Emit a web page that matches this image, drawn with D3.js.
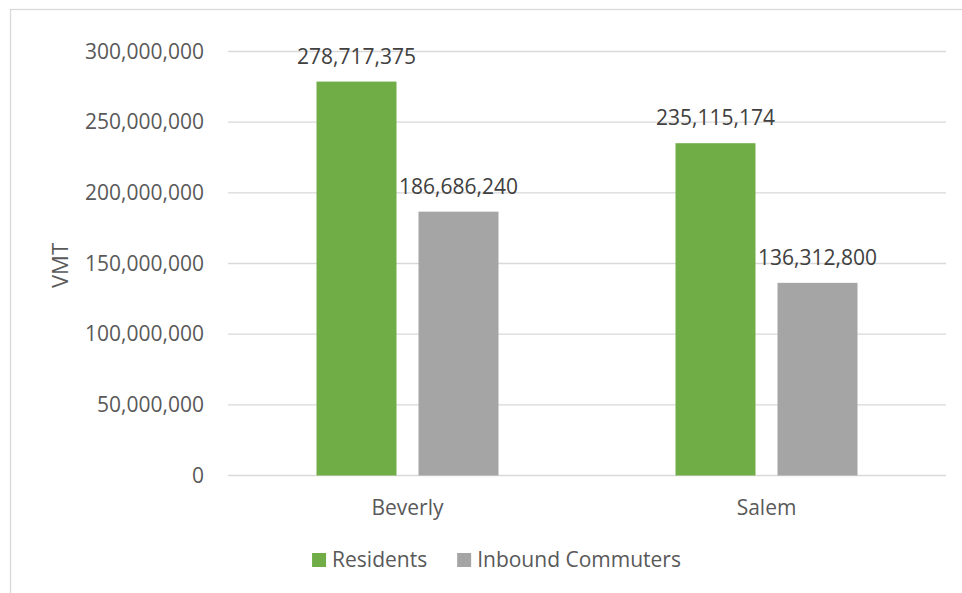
<!DOCTYPE html>
<html>
<head>
<meta charset="utf-8">
<script src="https://cdn.jsdelivr.net/npm/d3@7"></script>
<style>
  html, body { margin: 0; padding: 0; background: #fff; }
  svg { display: block; font-family: "Open Sans", "Noto Sans", sans-serif; }
</style>
</head>
<body>
<svg id="chart" width="962" height="593"></svg>
<script>
// Vehicle miles travelled by city and traveller group
const cities = ["Beverly", "Salem"];
const seriesNames = ["Residents", "Inbound Commuters"];
const residents = [278717375, 235115174];
const inboundCommuters = [186686240, 136312800];
const yTicks = [0, 50000000, 100000000, 150000000, 200000000, 250000000, 300000000];
const yTitle = "VMT";

const colors = ["#70AD47", "#A5A5A5"];
const textColor = "#595959";
const gridColor = "#D9D9D9";

const svg = d3.select("#chart");
const W = 962, H = 593;

// outer chart frame (only left and top edges fall inside the view)
svg.append("rect")
  .attr("x", 10.5).attr("y", 9.5)
  .attr("width", W + 20).attr("height", H + 20)
  .attr("fill", "#fff").attr("stroke", gridColor).attr("stroke-width", 1.3);

const plot = { left: 228, right: 946, top: 51.5, bottom: 475.5 };

const x0 = d3.scaleBand().domain(cities).range([plot.left, plot.right]);
const barW = 80, barGap = 22;
const groupW = 2 * barW + barGap;
const x1 = d3.scaleBand().domain(seriesNames)
  .range([0, groupW]).paddingInner(barGap / (barW + barGap)).paddingOuter(0);
const y = d3.scaleLinear().domain([0, 300000000]).range([plot.bottom, plot.top]);

const fmt = d3.format(",");

// horizontal gridlines
svg.append("g").selectAll("line").data(yTicks).join("line")
  .attr("x1", plot.left).attr("x2", plot.right)
  .attr("y1", d => y(d)).attr("y2", d => y(d))
  .attr("stroke", gridColor).attr("stroke-width", 1.3);

// y axis labels
const yAxis = d3.axisLeft(y).tickValues(yTicks).tickFormat(fmt).tickSize(0).tickPadding(24);
const gy = svg.append("g").attr("transform", `translate(${plot.left},0)`).call(yAxis);
gy.select(".domain").remove();
gy.selectAll("text")
  .attr("fill", textColor).style("font-size", "21px")
  .style("font-family", "'Open Sans', sans-serif");

// y axis title
svg.append("text")
  .attr("transform", `translate(68,${(plot.top + plot.bottom) / 2 + 2}) rotate(-90)`)
  .attr("text-anchor", "middle")
  .attr("fill", textColor).style("font-size", "22px")
  .text(yTitle);

// x axis labels
const xAxis = d3.axisBottom(x0).tickSize(0).tickPadding(25);
const gx = svg.append("g").attr("transform", `translate(0,${plot.bottom})`).call(xAxis);
gx.select(".domain").remove();
gx.selectAll("text")
  .attr("fill", textColor).style("font-size", "21px")
  .style("font-family", "'Open Sans', sans-serif");

// bars
const rows = cities.map((c, i) => ({
  city: c,
  values: [
    { series: seriesNames[0], value: residents[i] },
    { series: seriesNames[1], value: inboundCommuters[i] }
  ]
}));

const groups = svg.append("g").selectAll("g").data(rows).join("g")
  .attr("transform", d => `translate(${x0(d.city) + (x0.bandwidth() - groupW) / 2},0)`);

groups.selectAll("rect").data(d => d.values).join("rect")
  .attr("x", d => x1(d.series))
  .attr("width", x1.bandwidth())
  .attr("y", d => y(d.value))
  .attr("height", d => y(0) - y(d.value))
  .attr("fill", (d, i) => colors[i]);

// value labels above bars
groups.selectAll("text").data(d => d.values).join("text")
  .attr("x", d => x1(d.series) + x1.bandwidth() / 2)
  .attr("y", d => y(d.value) - 18)
  .attr("text-anchor", "middle")
  .attr("fill", "#404040").style("font-size", "21px")
  .text(d => fmt(d.value));

// legend
const legend = svg.append("g");
const items = legend.selectAll("g").data(seriesNames).join("g");
items.append("rect").attr("width", 14).attr("height", 14).attr("y", 553)
  .attr("fill", (d, i) => colors[i]);
items.append("text").attr("x", 20).attr("y", 567)
  .attr("fill", textColor).style("font-size", "21px")
  .text(d => d);
const widths = [];
items.each(function () { widths.push(this.getBBox().width); });
const spacing = 30;
const total = d3.sum(widths) + spacing * (widths.length - 1);
let start = 496.5 - total / 2;
items.attr("transform", (d, i) => {
  const t = `translate(${start},0)`;
  start += widths[i] + spacing;
  return t;
});
</script>
</body>
</html>
